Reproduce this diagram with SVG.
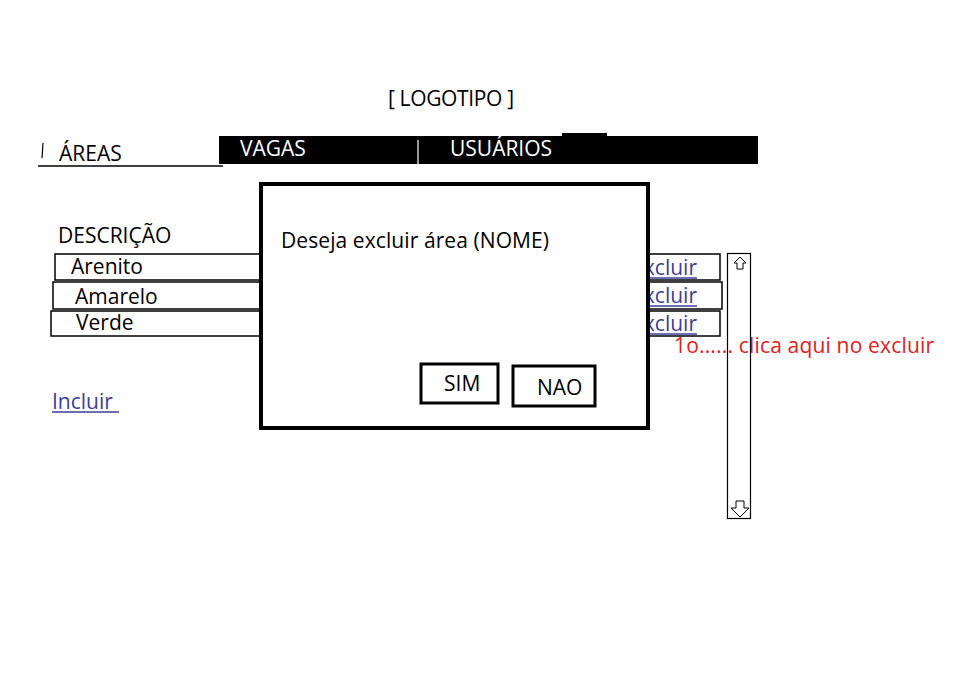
<svg xmlns="http://www.w3.org/2000/svg" width="958" height="674" viewBox="0 0 958 674">
<style>
text{font-family:"Open Sans","Noto Sans","Liberation Sans",sans-serif;font-size:21px;fill:#000}
.w{fill:#fff}
.lnk{fill:#3b3d9b}
.red{fill:#e0201c}
.box{fill:#fff;stroke:#000;stroke-width:1.5}
.btn{fill:#fff;stroke:#000;stroke-width:3}
</style>
<rect width="958" height="674" fill="#fff"/>
<g id="logo"><text x="388" y="106" textLength="126">[ LOGOTIPO ]</text></g>
<g id="tabs">
<line x1="38" y1="166" x2="223" y2="166" stroke="#000" stroke-width="1.5"/>
<line x1="43" y1="143" x2="42" y2="158" stroke="#000" stroke-width="1.2"/>
<text x="59" y="161">ÁREAS</text>
<rect x="219" y="136" width="539" height="28" fill="#000"/>
<rect x="562" y="133" width="45" height="4" fill="#000"/>
<line x1="418" y1="140" x2="418" y2="164" stroke="#fff" stroke-width="1.2"/>
<text class="w" x="240" y="156">VAGAS</text>
<text class="w" x="450" y="156">USUÁRIOS</text>
</g>
<g id="list">
<text x="58" y="243">DESCRIÇÃO</text>
<rect class="box" x="55" y="254" width="665" height="26"/>
<rect class="box" x="53" y="282" width="669" height="27"/>
<rect class="box" x="51" y="311" width="669" height="25"/>
<text x="71" y="274">Arenito</text>
<text x="75" y="304">Amarelo</text>
<text x="76" y="330">Verde</text>
<text class="lnk" x="697" y="275" text-anchor="end">excluir</text>
<text class="lnk" x="697" y="303" text-anchor="end">excluir</text>
<text class="lnk" x="697" y="331" text-anchor="end">excluir</text>
<line x1="630" y1="278" x2="697" y2="278" stroke="#3b3d9b" stroke-width="1.5"/>
<line x1="630" y1="306" x2="697" y2="306" stroke="#3b3d9b" stroke-width="1.5"/>
<line x1="630" y1="334" x2="697" y2="334" stroke="#3b3d9b" stroke-width="1.5"/>
</g>
<g id="note"><text class="red" x="674" y="353" textLength="260">1o...... clica aqui no excluir</text></g>
<g id="scrollbar">
<rect x="727.5" y="253.5" width="23" height="265" fill="none" stroke="#000" stroke-width="1.2"/>
<path d="M740 257 L746 263 L743 263 L743 269 L737 269 L737 263 L734 263 Z" fill="none" stroke="#000" stroke-width="1"/>
<path d="M736 501 L744 501 L744 508 L749 508 L740 517 L731 508 L736 508 Z" fill="none" stroke="#000" stroke-width="1"/>
</g>
<g id="incluir">
<text class="lnk" x="52" y="409">Incluir</text>
<line x1="52" y1="412" x2="119" y2="412" stroke="#3b3d9b" stroke-width="1.5"/>
</g>
<g id="modal">
<rect x="261" y="184" width="387" height="244" fill="#fff" stroke="#000" stroke-width="4"/>
<text x="281" y="248" textLength="268">Deseja excluir área (NOME)</text>
<rect class="btn" x="421" y="364" width="77" height="39"/>
<text x="444" y="391">SIM</text>
<rect class="btn" x="513" y="366" width="82" height="40"/>
<text x="537" y="395">NAO</text>
</g>
</svg>
